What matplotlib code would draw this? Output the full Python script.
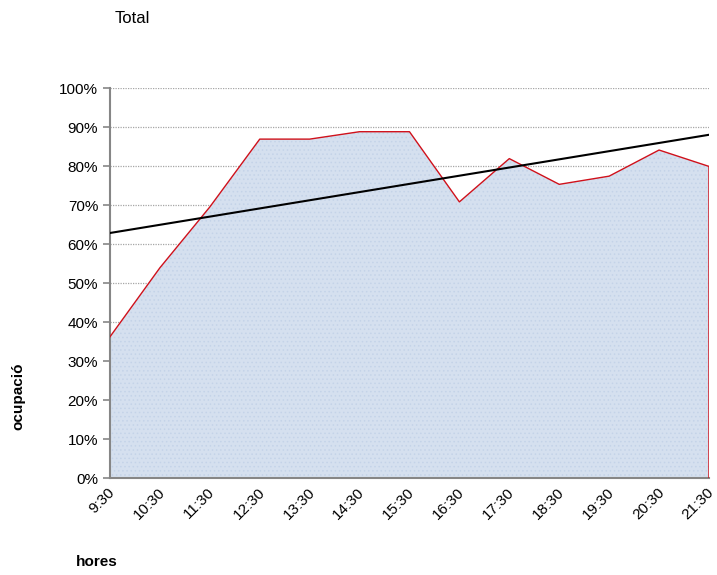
import numpy as np
import matplotlib.pyplot as plt
import matplotlib.transforms as mtransforms
from matplotlib.ticker import PercentFormatter

plt.rcParams['font.family'] = ['Liberation Sans', 'DejaVu Sans']
plt.rcParams['hatch.linewidth'] = 0.6

hores = ['9:30', '10:30', '11:30', '12:30', '13:30', '14:30', '15:30',
         '16:30', '17:30', '18:30', '19:30', '20:30', '21:30']
ocupacio = [36.3, 54.0, 69.6, 87.0, 87.0, 88.9, 88.9,
            70.9, 82.0, 75.4, 77.5, 84.2, 80.0]

x = np.arange(len(hores))
y = np.array(ocupacio) / 100.0

# linear trend line
coef = np.polyfit(x, y, 1)
trend = np.polyval(coef, x)

fig = plt.figure(figsize=(7.17, 5.75), dpi=100)
ax = fig.add_axes([0.1534, 0.1682, 0.8354, 0.678])

ax.fill_between(x, 0, y, facecolor='#d5e0ef', edgecolor='#c4d3e8',
                hatch='....', linewidth=0, zorder=2)
ax.plot(np.append(x, x[-1]), np.append(y, 0), color='#d0111b', lw=1.0, zorder=3)
ax.plot(x, trend, color='black', lw=1.5, zorder=4)

ax.set_xlim(0, len(hores) - 1)
ax.set_ylim(0, 1)
ax.set_yticks(np.arange(0, 1.01, 0.1))
ax.yaxis.set_major_formatter(PercentFormatter(1.0, decimals=0))
ax.grid(axis='y', color='#a6a6a6', linestyle=(0, (1, 1)), lw=0.9, zorder=1)
ax.set_axisbelow(True)

ax.set_xticks(x)
ax.set_xticklabels(hores, rotation=45, ha='right', va='top', rotation_mode='anchor')
ax.tick_params(axis='x', length=0, pad=5, labelsize=11)
ax.set_xticks(x[::2], minor=True)
ax.tick_params(axis='x', which='minor', length=5, color='#868686', width=1.2)
ax.tick_params(axis='y', length=5, color='#868686', width=1.2, labelsize=11)

offset = mtransforms.ScaledTranslation(-1.5 / 72, 0, fig.dpi_scale_trans)
for lab in ax.get_xticklabels():
    lab.set_transform(lab.get_transform() + offset)

for s in ['top', 'right']:
    ax.spines[s].set_visible(False)
for s in ['left', 'bottom']:
    ax.spines[s].set_color('#868686')
    ax.spines[s].set_linewidth(1.5)

fig.text(0.160, 0.968, 'Total', fontsize=12, va='center', ha='left')
fig.text(0.025, 0.311, 'ocupació', rotation=90, fontsize=11, fontweight='bold',
         ha='center', va='center')
fig.text(0.135, 0.022, 'hores', fontsize=11, fontweight='bold',
         ha='center', va='center')

fig.savefig('out.png', dpi=100)
